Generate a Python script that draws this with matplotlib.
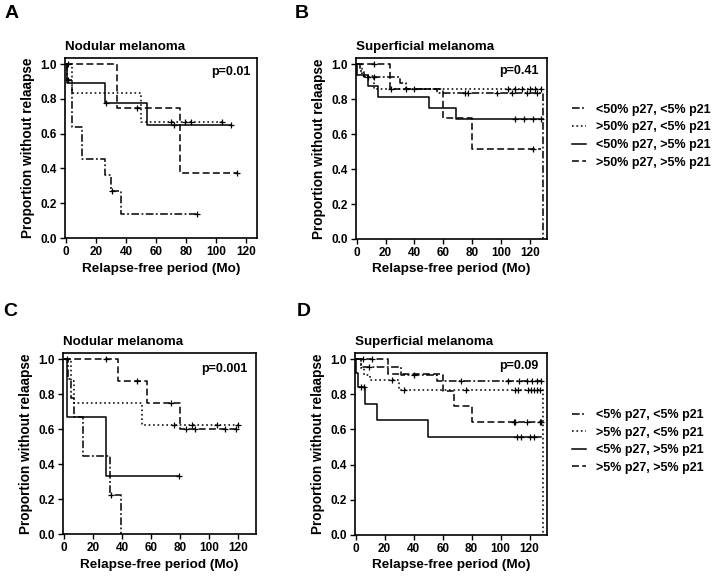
import matplotlib
matplotlib.use("Agg")
import matplotlib.pyplot as plt
import numpy as np
from matplotlib.lines import Line2D

plt.rcParams['font.family'] = ['Liberation Sans', 'DejaVu Sans']
plt.rcParams['font.weight'] = 'bold'

# ---- panel A : nodular melanoma, p27 cut-off 50%
a_dd_t = [0, 1, 4, 11, 26, 30, 37, 87]
a_dd_s = [1.0, 0.91, 0.64, 0.455, 0.364, 0.273, 0.136, 0.136]
a_dd_c = [1.5, 30.5, 87]
a_dot_t = [0, 4, 50, 104]
a_dot_s = [1.0, 0.833, 0.667, 0.667]
a_dot_c = [70, 79, 83, 104]
a_sol_t = [0, 0.5, 26, 54, 110]
a_sol_s = [1.0, 0.889, 0.778, 0.648, 0.648]
a_sol_c = [27, 72, 110]
a_das_t = [0, 34, 76, 114]
a_das_s = [1.0, 0.75, 0.375, 0.375]
a_das_c = [1.5, 47, 114]

# ---- panel B : superficial melanoma, p27 cut-off 50%
b_dd_t = [0, 2, 5, 30, 34, 56, 129]
b_dd_s = [1.0, 0.96, 0.925, 0.89, 0.86, 0.835, 0.0]
b_dd_c = [8, 12, 75, 77, 97, 108, 118, 125]
b_dot_t = [0, 4, 12, 128]
b_dot_s = [1.0, 0.93, 0.86, 0.86]
b_dot_c = [24, 34, 40, 105, 110, 115, 120, 124, 128]
b_sol_t = [0, 0.5, 8, 15, 50, 69, 128]
b_sol_s = [1.0, 0.94, 0.875, 0.81, 0.75, 0.685, 0.685]
b_sol_c = [110, 116, 122, 128]
b_das_t = [0, 23, 60, 80, 128]
b_das_s = [1.0, 0.86, 0.69, 0.515, 0.515]
b_das_c = [12, 122]

# ---- panel C : nodular melanoma, p27 cut-off 5%
c_dd_t = [0, 3, 5, 7, 13, 32, 39]
c_dd_s = [1.0, 0.889, 0.778, 0.667, 0.444, 0.222, 0.0]
c_dd_c = [32.5]
c_dot_t = [0, 5, 7, 54, 120]
c_dot_s = [1.0, 0.875, 0.75, 0.625, 0.625]
c_dot_c = [76, 88, 105, 120]
c_sol_t = [0, 2, 29, 79]
c_sol_s = [1.0, 0.667, 0.333, 0.333]
c_sol_c = [79]
c_das_t = [0, 37, 57, 80, 118]
c_das_s = [1.0, 0.875, 0.75, 0.6, 0.6]
c_das_c = [2.5, 29, 50, 74, 84, 90, 111, 118]

# ---- panel D : superficial melanoma, p27 cut-off 5%
d_dd_t = [0, 4, 31, 56, 128]
d_dd_s = [1.0, 0.955, 0.91, 0.875, 0.875]
d_dd_c = [9, 40, 73, 105, 113, 118, 122, 125, 128]
d_dot_t = [0, 4, 6, 10, 30, 129]
d_dot_s = [1.0, 0.95, 0.91, 0.88, 0.825, 0.0]
d_dot_c = [25, 33, 76, 110, 112, 119, 121, 123, 125, 127]
d_sol_t = [0, 0.3, 1.8, 6.5, 14.5, 50, 128]
d_sol_s = [1.0, 0.92, 0.84, 0.745, 0.655, 0.56, 0.56]
d_sol_c = [4, 6, 111, 114, 120, 123]
d_das_t = [0, 22, 60, 68, 80, 128]
d_das_s = [1.0, 0.917, 0.82, 0.735, 0.64, 0.64]
d_das_c = [5, 11, 109, 110, 118, 127, 128]

legend_top = ['<50% p27, <5% p21', '>50% p27, <5% p21',
              '<50% p27, >5% p21', '>50% p27, >5% p21']
legend_bot = ['<5% p27, <5% p21', '>5% p27, <5% p21',
              '<5% p27, >5% p21', '>5% p27, >5% p21']

LW = 1.1
styles = [(0, (5, 1.6, 1.2, 1.6)), (0, (1.1, 1.8)), '-', (0, (4.5, 2.2))]


def km(ax, t, s, cens, ls):
    ax.step(t, s, where='post', color='k', lw=LW, linestyle=ls)
    t = np.asarray(t)
    s = np.asarray(s)
    idx = np.searchsorted(t, cens, side='right') - 1
    ax.plot(cens, s[idx], ls='none', marker='+', ms=5, mew=0.9, color='k')


def setup(ax, title, pval, xmax, px, py):
    ax.set_xlim(-0.5, xmax)
    ax.set_ylim(0, 1.035)
    ax.set_xticks(range(0, 121, 20))
    ax.set_yticks([0, 0.2, 0.4, 0.6, 0.8, 1.0])
    ax.set_yticklabels(['0.0', '0.2', '0.4', '0.6', '0.8', '1.0'])
    ax.tick_params(direction='out', length=3.5, width=1, labelsize=8.5, pad=2.5)
    for sp in ax.spines.values():
        sp.set_linewidth(1.2)
    ax.set_xlabel('Relapse-free period (Mo)', fontsize=9.7, fontweight='bold', labelpad=3)
    ax.set_ylabel('Proportion without relaapse', fontsize=9.8, fontweight='bold', labelpad=4)
    ax.text(0, 1.045, title, transform=ax.transAxes, ha='left', va='baseline',
            fontsize=9.6, fontweight='bold')
    ax.text(px, py, pval, transform=ax.transAxes, ha='right', va='center',
            fontsize=9, fontweight='bold')


fig = plt.figure(figsize=(7.2, 5.77), dpi=100)

axA = fig.add_axes([0.0903, 0.5875, 0.2667, 0.312])
axB = fig.add_axes([0.4944, 0.5858, 0.2653, 0.3137])
axC = fig.add_axes([0.0875, 0.0745, 0.268, 0.3137])
axD = fig.add_axes([0.4930, 0.0728, 0.2667, 0.3154])

panels = [
    (axA, [(a_dd_t, a_dd_s, a_dd_c), (a_dot_t, a_dot_s, a_dot_c),
           (a_sol_t, a_sol_s, a_sol_c), (a_das_t, a_das_s, a_das_c)],
     'Nodular melanoma', 'p=0.01', 127, 0.965, 0.924),
    (axB, [(b_dd_t, b_dd_s, b_dd_c), (b_dot_t, b_dot_s, b_dot_c),
           (b_sol_t, b_sol_s, b_sol_c), (b_das_t, b_das_s, b_das_c)],
     'Superficial melanoma', 'p=0.41', 132, 0.955, 0.93),
    (axC, [(c_dd_t, c_dd_s, c_dd_c), (c_dot_t, c_dot_s, c_dot_c),
           (c_sol_t, c_sol_s, c_sol_c), (c_das_t, c_das_s, c_das_c)],
     'Nodular melanoma', 'p=0.001', 132, 0.958, 0.912),
    (axD, [(d_dd_t, d_dd_s, d_dd_c), (d_dot_t, d_dot_s, d_dot_c),
           (d_sol_t, d_sol_s, d_sol_c), (d_das_t, d_das_s, d_das_c)],
     'Superficial melanoma', 'p=0.09', 132, 0.953, 0.929),
]

for ax, curves, title, pval, xmax, px, py in panels:
    for (t, s, c), ls in zip(curves, styles):
        km(ax, t, s, c, ls)
    setup(ax, title, pval, xmax, px, py)

handles = [Line2D([], [], color='k', lw=LW, linestyle=ls) for ls in styles]
for labels, yc in [(legend_top, 0.764), (legend_bot, 0.235)]:
    fig.legend(handles, labels, loc='center left', bbox_to_anchor=(0.795, yc),
               frameon=False, handlelength=1.1, handletextpad=0.8,
               labelspacing=0.45, borderpad=0, borderaxespad=0,
               prop={'weight': 'bold', 'size': 9})

for letter, x, y in [('A', 0.0167, 0.977), ('B', 0.419, 0.977),
                     ('C', 0.0139, 0.461), ('D', 0.422, 0.461)]:
    fig.text(x, y, letter, fontsize=14, fontweight='bold', ha='center', va='center')

fig.savefig('out.png', dpi=100, facecolor='white')
